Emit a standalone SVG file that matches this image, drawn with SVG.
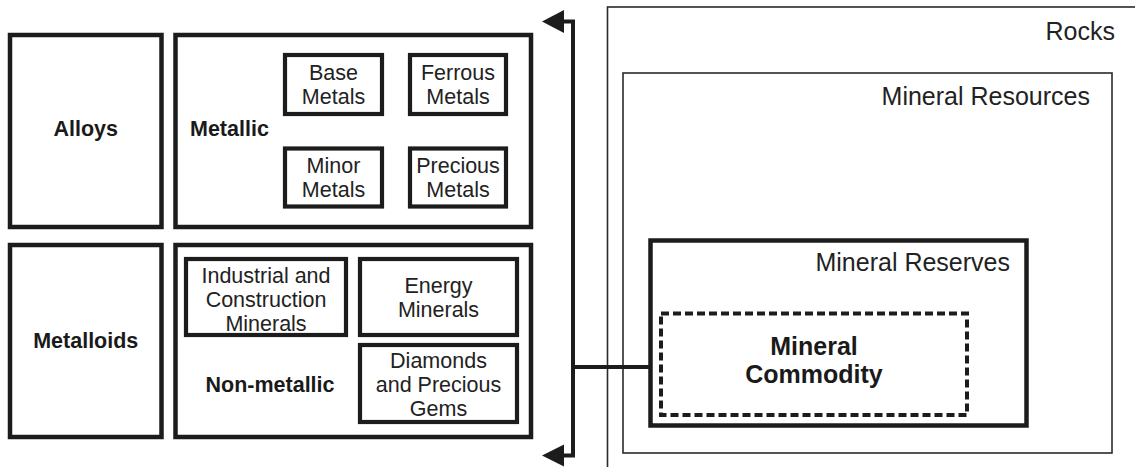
<svg xmlns="http://www.w3.org/2000/svg" width="1135" height="467" viewBox="0 0 1135 467">
  <defs>
    <style>
      .outer { fill: #fff; stroke: #1c1c1c; stroke-width: 4.5; }
      .inner { fill: #fff; stroke: #1c1c1c; stroke-width: 4.2; }
      .thin { fill: none; stroke: #2a2a2a; stroke-width: 1.6; }
      .thick { fill: #fff; stroke: #1c1c1c; stroke-width: 4.5; }
      .dash { fill: none; stroke: #1c1c1c; stroke-width: 4; stroke-dasharray: 8 4; }
      .lbl { font-family: "Liberation Sans", Arial, sans-serif; font-size: 21.5px; fill: #222; }
      .big { font-family: "Liberation Sans", Arial, sans-serif; font-size: 25px; fill: #222; }
      .bold { font-family: "Liberation Sans", Arial, sans-serif; font-size: 21.5px; font-weight: bold; fill: #1a1a1a; }
      .boldbig { font-family: "Liberation Sans", Arial, sans-serif; font-size: 25px; font-weight: bold; fill: #1a1a1a; }
      .mid { text-anchor: middle; }
      .end { text-anchor: end; }
      .wire { fill: none; stroke: #1c1c1c; stroke-width: 4; }
      .head { fill: #1c1c1c; }
    </style>
  </defs>
  <rect width="1135" height="467" fill="#fff"/>

  <!-- classification of mineral commodities -->
  <g id="alloys">
    <rect class="outer" x="10" y="35" width="151.5" height="192"/>
    <text class="bold mid" x="85.75" y="136">Alloys</text>
  </g>
  <g id="metallic">
    <rect class="outer" x="175.5" y="35" width="355.5" height="192"/>
    <text class="bold" x="190" y="136">Metallic</text>
  </g>
  <g id="base-metals">
    <rect class="inner" x="285" y="55" width="97" height="59"/>
    <text class="lbl mid" x="333.5" y="80">Base</text>
    <text class="lbl mid" x="333.5" y="104">Metals</text>
  </g>
  <g id="ferrous-metals">
    <rect class="inner" x="410" y="55" width="96" height="59"/>
    <text class="lbl mid" x="458" y="80">Ferrous</text>
    <text class="lbl mid" x="458" y="104">Metals</text>
  </g>
  <g id="minor-metals">
    <rect class="inner" x="285" y="148.5" width="97" height="58"/>
    <text class="lbl mid" x="333.5" y="173">Minor</text>
    <text class="lbl mid" x="333.5" y="197">Metals</text>
  </g>
  <g id="precious-metals">
    <rect class="inner" x="410" y="148.5" width="96" height="58"/>
    <text class="lbl mid" x="458" y="173">Precious</text>
    <text class="lbl mid" x="458" y="197">Metals</text>
  </g>

  <g id="metalloids">
    <rect class="outer" x="10" y="245" width="151.5" height="192"/>
    <text class="bold mid" x="85.75" y="348">Metalloids</text>
  </g>
  <g id="non-metallic">
    <rect class="outer" x="175.5" y="245" width="355.5" height="192"/>
    <text class="bold mid" x="270" y="392">Non-metallic</text>
  </g>
  <g id="industrial-minerals">
    <rect class="inner" x="186" y="259" width="160" height="76"/>
    <text class="lbl mid" x="266" y="283">Industrial and</text>
    <text class="lbl mid" x="266" y="307">Construction</text>
    <text class="lbl mid" x="266" y="331">Minerals</text>
  </g>
  <g id="energy-minerals">
    <rect class="inner" x="360" y="259" width="157" height="76"/>
    <text class="lbl mid" x="438.5" y="293">Energy</text>
    <text class="lbl mid" x="438.5" y="317">Minerals</text>
  </g>
  <g id="diamonds-gems">
    <rect class="inner" x="360" y="345" width="157" height="77"/>
    <text class="lbl mid" x="438.5" y="368">Diamonds</text>
    <text class="lbl mid" x="438.5" y="392">and Precious</text>
    <text class="lbl mid" x="438.5" y="416">Gems</text>
  </g>

  <!-- nested resource hierarchy -->
  <g id="rocks">
    <rect class="thin" x="607.5" y="7" width="540" height="480"/>
    <text class="big end" x="1115" y="40">Rocks</text>
  </g>
  <g id="mineral-resources">
    <rect class="thin" x="623" y="73" width="489" height="380"/>
    <text class="big end" x="1090" y="105">Mineral Resources</text>
  </g>
  <g id="mineral-reserves">
    <rect class="thick" x="650.5" y="240.5" width="376" height="185"/>
    <text class="big end" x="1010" y="271">Mineral Reserves</text>
  </g>
  <g id="mineral-commodity">
    <rect class="dash" x="661" y="313.5" width="306" height="101.5"/>
    <text class="boldbig mid" x="814" y="355">Mineral</text>
    <text class="boldbig mid" x="814" y="383">Commodity</text>
  </g>

  <!-- commodity feeds both classification groups -->
  <g id="connectors">
    <path class="wire" d="M650.5 367 H573 M562 21.5 H573 V455.5 H562"/>
    <polygon class="head" points="542,21.5 564,10 564,33"/>
    <polygon class="head" points="542,455.5 564,444.5 564,466.5"/>
  </g>
</svg>
